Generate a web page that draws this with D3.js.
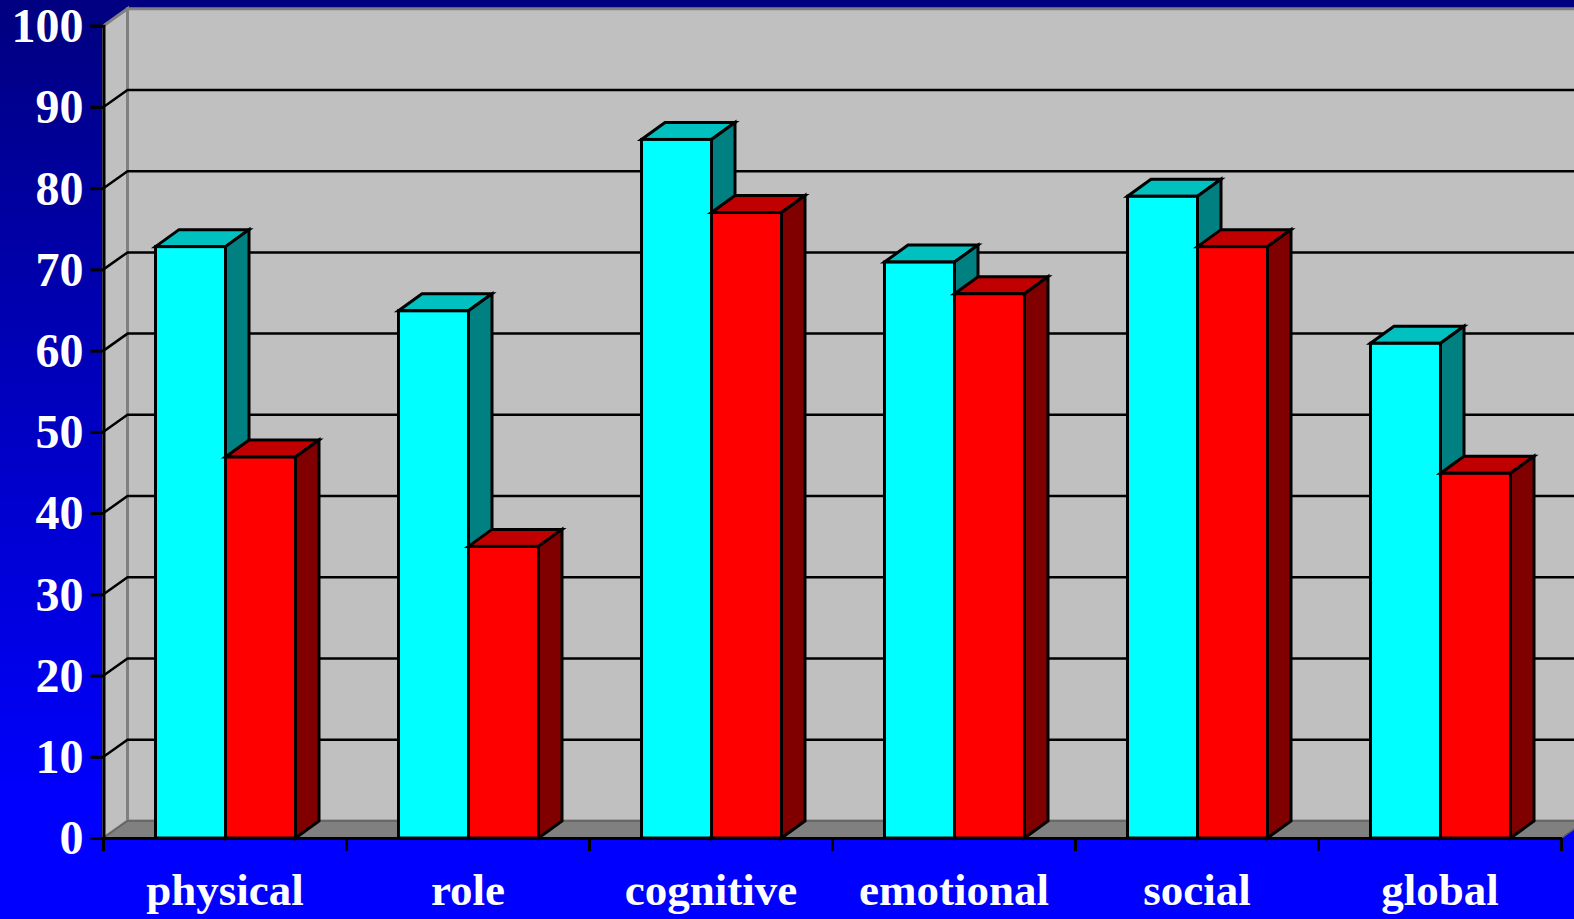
<!DOCTYPE html>
<html>
<head>
<meta charset="utf-8">
<script src="https://cdnjs.cloudflare.com/ajax/libs/d3/7.8.5/d3.min.js"></script>
<style>
    html, body { margin: 0; padding: 0; overflow: hidden; background: #0000ff; }
    svg { display: block; }
    text { font-family: "Liberation Serif", serif; font-weight: bold; fill: #fff; }
</style>
</head>
<body>
<svg id="chart"></svg>
<script>
const categories = ["physical", "role", "cognitive", "emotional", "social", "global"];
const seriesNames = ["a", "b"];
const seriesA = [72.8, 64.9, 86, 70.9, 79, 60.9];
const seriesB = [46.9, 35.9, 77, 67, 72.8, 44.9];
const yTicks = [0, 10, 20, 30, 40, 50, 60, 70, 80, 90, 100];

const faceColors = { a: "#00ffff", b: "#ff0000" };
const topColors = { a: "#00c0c0", b: "#c00000" };
const sideColors = { a: "#008080", b: "#800000" };

const width = 1574, height = 919;
const depthX = 24, depthY = 17; // 3d offset of the back wall
const barDepthX = 23.5, barDepthY = 17;

const svg = d3.select("#chart").attr("width", width).attr("height", height);

const y = d3.scaleLinear().domain([0, 100]).range([838, 25.7]);
const x0 = d3.scaleBand().domain(categories).range([103.5, 1561.5]);
const x1 = d3.scaleBand().domain(seriesNames).range([52, 192]);

const rows = categories.map((c, i) => ({ category: c, a: seriesA[i], b: seriesB[i] }));

// background gradient
const grad = svg.append("defs").append("linearGradient")
    .attr("id", "bg").attr("x1", 0).attr("y1", 0).attr("x2", 0).attr("y2", 1);
grad.append("stop").attr("offset", 0).attr("stop-color", "#000080");
grad.append("stop").attr("offset", 0.88).attr("stop-color", "#0000ff");
svg.append("rect").attr("width", width).attr("height", height).attr("fill", "url(#bg)");

const xL = x0.range()[0], xR = x0.range()[1], yB = y(0), yT = y(100);
const pts = a => a.map(p => p.join(",")).join(" ");

// back wall, side wall, floor
svg.append("polygon")
    .attr("points", pts([[xL + depthX, yT - depthY], [xR + depthX, yT - depthY], [xR + depthX, yB - depthY], [xL + depthX, yB - depthY]]))
    .attr("fill", "#c0c0c0").attr("stroke", "#808080").attr("stroke-width", 3);
svg.append("polygon")
    .attr("points", pts([[xL, yB], [xL, yT], [xL + depthX, yT - depthY], [xL + depthX, yB - depthY]]))
    .attr("fill", "#c0c0c0").attr("stroke", "#808080").attr("stroke-width", 3);
svg.append("polygon")
    .attr("points", pts([[xL, yB], [xL + depthX, yB - depthY], [xR + depthX, yB - depthY], [xR, yB]]))
    .attr("fill", "#808080").attr("stroke", "#606060").attr("stroke-width", 1.5);

// grid lines on back and side wall
const grid = yTicks.filter(d => d > 0 && d < 100);
svg.append("g").selectAll("path").data(grid).enter().append("path")
    .attr("fill", "none").attr("stroke", "#000").attr("stroke-width", 2.5)
    .attr("d", d => `M${xL},${y(d)} L${xL + depthX},${y(d) - depthY} L${xR + depthX},${y(d) - depthY}`);

// bars
const group = svg.append("g").selectAll("g").data(rows).enter().append("g")
    .attr("transform", d => `translate(${x0(d.category)},0)`);

const bar = group.selectAll("g")
    .data(d => seriesNames.map(s => ({ s, v: d[s] })))
    .enter().append("g")
    .attr("stroke", "#000").attr("stroke-width", 3).attr("stroke-linejoin", "miter");

bar.append("polygon")
    .attr("fill", d => topColors[d.s])
    .attr("points", d => {
        const l = x1(d.s), r = l + x1.bandwidth(), t = y(d.v);
        return pts([[l, t], [l + barDepthX, t - barDepthY], [r + barDepthX, t - barDepthY], [r, t]]);
    });
bar.append("polygon")
    .attr("fill", d => sideColors[d.s])
    .attr("points", d => {
        const r = x1(d.s) + x1.bandwidth(), t = y(d.v);
        return pts([[r, t], [r + barDepthX, t - barDepthY], [r + barDepthX, yB - barDepthY], [r, yB]]);
    });
bar.append("rect")
    .attr("fill", d => faceColors[d.s])
    .attr("x", d => x1(d.s))
    .attr("y", d => y(d.v))
    .attr("width", x1.bandwidth())
    .attr("height", d => yB - y(d.v));

// axes
const axisL = d3.axisLeft(y).tickValues(yTicks).tickSize(13).tickPadding(7).tickFormat(d3.format("d"));
const gL = svg.append("g").attr("transform", `translate(${xL},0)`).call(axisL);
gL.select(".domain").attr("stroke", "#000").attr("stroke-width", 3);
gL.selectAll(".tick line").attr("stroke", "#000").attr("stroke-width", 3);
gL.selectAll("text").attr("font-size", 48).attr("font-family", null).attr("dy", "0.33em");

const axisB = d3.axisBottom(x0).tickSize(0).tickPadding(35);
const gB = svg.append("g").attr("transform", `translate(0,${yB})`).call(axisB);
gB.select(".domain").attr("stroke", "#000").attr("stroke-width", 3);
gB.selectAll("text").attr("font-size", 45).attr("font-family", null);

// category separators sit on the band edges, not the band centres
svg.append("g").selectAll("line").data(categories.concat(null)).enter().append("line")
    .attr("x1", d => d ? x0(d) : xR).attr("x2", d => d ? x0(d) : xR)
    .attr("y1", yB).attr("y2", yB + 13)
    .attr("stroke", "#000").attr("stroke-width", 3);
</script>
</body>
</html>
